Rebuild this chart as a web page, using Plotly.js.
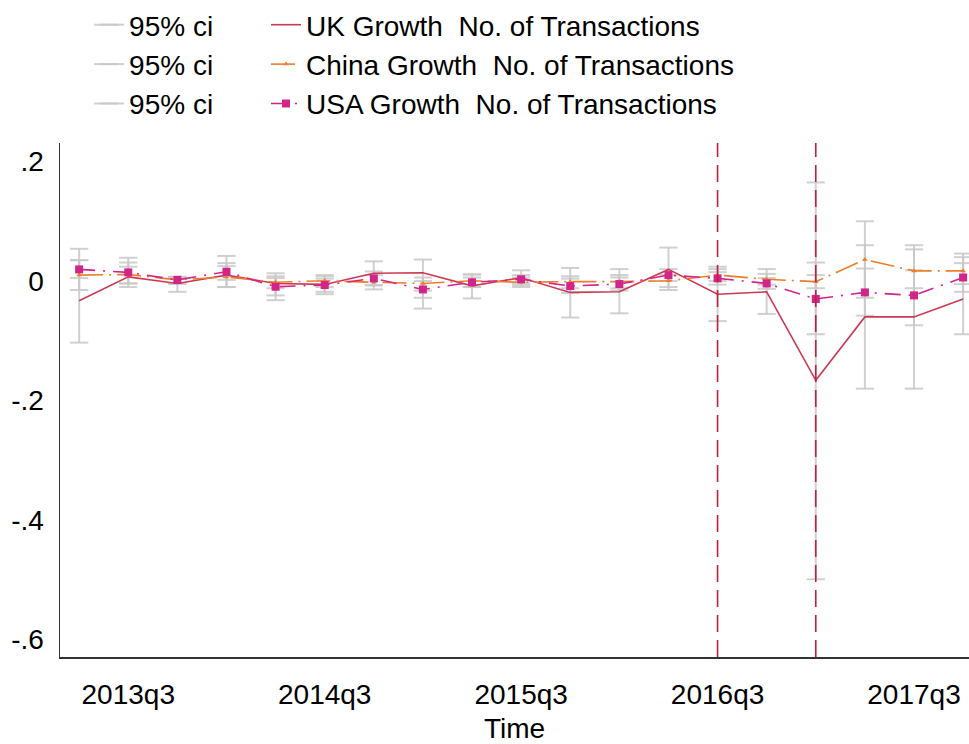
<!DOCTYPE html>
<html>
<head>
<meta charset="utf-8">
<script src="https://cdn.plot.ly/plotly-3.0.1.min.js"></script>
<style>html,body{margin:0;padding:0;background:#fff;}#chart{width:969px;height:744px;}</style>
</head>
<body>
<div id="chart"></div>
<script>
// Quarters (2013q2 .. 2017q4)
const quarters = ["2013q2","2013q3","2013q4","2014q1","2014q2","2014q3","2014q4","2015q1","2015q2","2015q3","2015q4","2016q1","2016q2","2016q3","2016q4","2017q1","2017q2","2017q3","2017q4"];
const tickQuarters = ["2013q3","2014q3","2015q3","2016q3","2017q3"];
const eventQuarters = ["2016q3","2017q1"];

const ukGrowth    = [-0.033, 0.007, -0.004, 0.010, -0.004, -0.0056, 0.013, 0.014, -0.008, 0.0056, -0.019, -0.018, 0.0195, -0.022, -0.018, -0.166, -0.060, -0.060, -0.030];
const ukHi        = [0.054, 0.039, 0.007, 0.042, 0.013, 0.010, 0.033, 0.036, 0.011, 0.018, 0.022, 0.020, 0.056, 0.024, 0.020, 0.165, 0.060, 0.060, 0.046];
const ukLo        = [-0.103, -0.010, -0.018, -0.010, -0.032, -0.022, -0.007, -0.046, -0.029, -0.007, -0.061, -0.054, -0.015, -0.067, -0.055, -0.499, -0.180, -0.180, -0.089];

const chinaGrowth = [0.010, 0.011, 0.002, 0.007, -0.002, 0.0005, -0.002, -0.004, 0.0005, -0.002, -0.001, -0.001, 0.0005, 0.010, 0.003, -0.001, 0.036, 0.017, 0.017];
const chinaHi     = [0.035, 0.031, 0.007, 0.025, 0.008, 0.008, 0.010, 0.006, 0.011, 0.006, 0.008, 0.010, 0.010, 0.020, 0.012, 0.010, 0.100, 0.053, 0.040];
const chinaLo     = [-0.015, -0.004, -0.005, -0.010, -0.012, -0.010, -0.014, -0.016, -0.010, -0.010, -0.012, -0.012, -0.010, 0.000, -0.006, -0.012, -0.028, -0.012, -0.005];

const usaGrowth   = [0.0195, 0.0145, 0.002, 0.0156, -0.0095, -0.0067, 0.0045, -0.014, -0.002, 0.003, -0.0084, -0.005, 0.010, 0.0045, -0.004, -0.030, -0.019, -0.024, 0.006];
const usaHi       = [0.035, 0.024, 0.007, 0.030, 0.005, 0.004, 0.016, 0.000, 0.006, 0.010, 0.004, 0.006, 0.020, 0.015, 0.005, 0.031, 0.021, 0.018, 0.030];
const usaLo       = [0.005, -0.004, -0.004, 0.002, -0.024, -0.018, -0.007, -0.028, -0.010, -0.004, -0.020, -0.016, 0.000, -0.006, -0.013, -0.089, -0.058, -0.074, -0.018];

const yTickVals = [0.2, 0, -0.2, -0.4, -0.6];
const yTickText = [".2", "0", "-.2", "-.4", "-.6"];

const xIdx = quarters.map((q, i) => i);
const FONT = "Liberation Sans, Arial, sans-serif";
const FS = 28;

function ciTrace(hi, lo) {
  const xs = [], ys = [];
  for (let i = 0; i < xIdx.length; i++) {
    xs.push(xIdx[i], xIdx[i], null);
    ys.push(lo[i], hi[i], null);
  }
  return {
    x: xs, y: ys, type: "scatter", mode: "lines+markers",
    name: "95% ci", legend: "legend",
    line: {color: "rgba(200,200,200,0.85)", width: 2},
    marker: {symbol: "line-ew-open", size: 13, color: "rgba(200,200,200,0.85)", line: {width: 2, color: "rgba(200,200,200,0.85)"}},
    hoverinfo: "skip"
  };
}

const traces = [
  ciTrace(ukHi, ukLo),
  ciTrace(chinaHi, chinaLo),
  ciTrace(usaHi, usaLo),
  {x: xIdx, y: ukGrowth, type: "scatter", mode: "lines", name: "UK Growth  No. of Transactions", legend: "legend2",
   line: {color: "#cc3a52", width: 1.6}},
  {x: xIdx, y: chinaGrowth, type: "scatter", mode: "lines+markers", name: "China Growth  No. of Transactions", legend: "legend2",
   line: {color: "#ee7d2a", width: 1.6, dash: "24px,6px,2px,6px"},
   marker: {symbol: "triangle-up", size: 5, color: "#ee7d2a"}},
  {x: xIdx, y: usaGrowth, type: "scatter", mode: "lines+markers", name: "USA Growth  No. of Transactions", legend: "legend2",
   line: {color: "#d2258a", width: 1.6, dash: "16px,8px,2px,8px"},
   marker: {symbol: "square", size: 8, color: "#d2258a"}}
];

const shapes = eventQuarters.map(q => ({
  type: "line", xref: "x", yref: "paper",
  x0: quarters.indexOf(q), x1: quarters.indexOf(q), y0: 0, y1: 1,
  line: {color: "#c41e3a", width: 1.6, dash: "17px,8px"}
}));

const layout = {
  width: 969, height: 744,
  margin: {l: 60, r: 0, t: 143, b: 87},
  paper_bgcolor: "#fff", plot_bgcolor: "#fff",
  font: {family: FONT, size: FS, color: "#000"},
  showlegend: true,
  legend: {x: 0.032, xanchor: "left", y: 1.003, yref: "container", yanchor: "top",
           font: {family: FONT, size: FS}, bgcolor: "rgba(0,0,0,0)", tracegroupgap: 0, itemwidth: 30},
  legend2: {x: 0.2266, xanchor: "left", y: 1.003, yref: "container", yanchor: "top",
           font: {family: FONT, size: FS}, bgcolor: "rgba(0,0,0,0)", tracegroupgap: 0, itemwidth: 30},
  xaxis: {
    range: [-0.39, 18.12],
    tickvals: tickQuarters.map(q => quarters.indexOf(q)),
    ticktext: tickQuarters,
    showgrid: false, zeroline: false,
    showline: true, linecolor: "#333", linewidth: 1.5,
    ticks: "", ticklabelstandoff: 12,
    tickfont: {family: FONT, size: FS},
    title: {text: "Time", font: {family: FONT, size: FS}, standoff: 9}
  },
  yaxis: {
    range: [-0.629, 0.231],
    tickvals: yTickVals, ticktext: yTickText,
    showgrid: false, zeroline: false,
    showline: true, linecolor: "#333", linewidth: 1.5,
    ticks: "", ticklabelstandoff: 9,
    tickfont: {family: FONT, size: FS}
  },
  shapes: shapes
};

Plotly.newPlot("chart", traces, layout, {displayModeBar: false, staticPlot: true});
</script>
</body>
</html>
